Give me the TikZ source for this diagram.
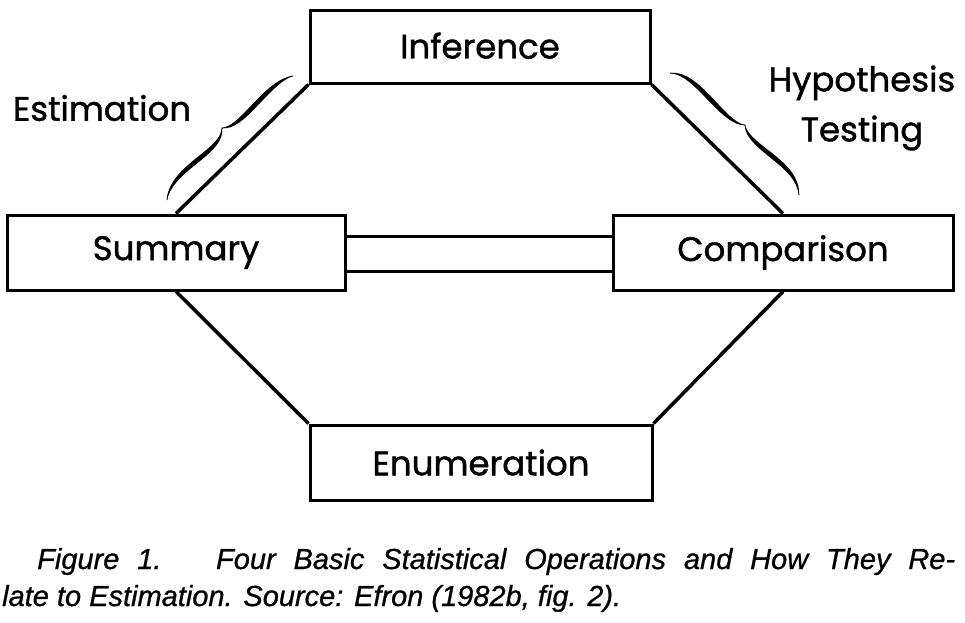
\documentclass[tikz,border=0pt]{standalone}
\usepackage{fontspec}
\setmainfont{Poppins}[FakeBold=1.2]
\newfontfamily\capfont{Liberation Sans}[FakeBold=0.8]
\begin{document}
\begin{tikzpicture}[x=1pt,y=-1pt,
  opbox/.style={draw,line width=3pt,rectangle,inner sep=0pt,font=\fontsize{34}{40}\selectfont},
  link/.style={line width=3.5pt},
  lbl/.style={inner sep=0pt,font=\fontsize{34}{50}\selectfont,align=center},
  captext/.style={inner sep=0pt,anchor=base west,font=\capfont\itshape\fontsize{29}{32}\selectfont}]
\useasboundingbox (0,0) rectangle (965,622);
\node[opbox,minimum width=340pt,minimum height=73pt] (inference) at (480,46.5) {\raisebox{2pt}{Inference}};
\node[opbox,minimum width=338pt,minimum height=75pt] (summary) at (176,252.5) {\raisebox{-4pt}{Summary}};
\node[opbox,minimum width=340pt,minimum height=75pt] (comparison) at (783,252.5) {\raisebox{-2pt}{Comparison}};
\node[opbox,minimum width=342pt,minimum height=75pt] (enumeration) at (481,462.5) {Enumeration};
\draw[link] (summary.north) -- (inference.south west);
\draw[link] (inference.south east) -- (comparison.north);
\draw[link] (summary.south) -- (enumeration.north west);
\draw[link] (comparison.south) -- (enumeration.north east);
\draw[line width=3pt] ([yshift=16pt]summary.east) -- ([yshift=16pt]comparison.west);
\draw[line width=3pt] ([yshift=-19pt]summary.east) -- ([yshift=-19pt]comparison.west);
% braces
\coordinate (la) at (167,200); \coordinate (lt) at (222,128); \coordinate (lb) at (293,76);
\coordinate (ra) at (670,73); \coordinate (rt) at (745,125); \coordinate (rb) at (799,195);
\fill (la) .. controls (170,165) and (222,150) .. (lt) .. controls (226,154) and (174,169) .. (la);
\fill (lt) .. controls (240,128) and (265,80) .. (lb) .. controls (269,84) and (244,132) .. (lt);
\fill (ra) .. controls (695,73) and (720,125) .. (rt) .. controls (724,121) and (699,69) .. (ra);
\fill (rt) .. controls (746,150) and (797,165) .. (rb) .. controls (801,161) and (750,146) .. (rt);
\draw[line width=0.8pt] (la) .. controls (170,165) and (222,150) .. (lt) .. controls (240,128) and (265,80) .. (lb);
\draw[line width=0.8pt] (ra) .. controls (695,73) and (720,125) .. (rt) .. controls (746,150) and (797,165) .. (rb);
\node[lbl] (est) at (102,108) {Estimation};
\node[lbl] (hyp) at (862,108) {Hypothesis\\Testing};
\node[captext] (cap1) at (37,569) {\hbox to 918pt{Figure 1.\hspace{0.5em} Four Basic Statistical Operations and How They Re-}};
\node[captext] (cap2) at (2,606) {late to Estimation. Source: Efron (1982b, fig. 2).};
\end{tikzpicture}
\end{document}
